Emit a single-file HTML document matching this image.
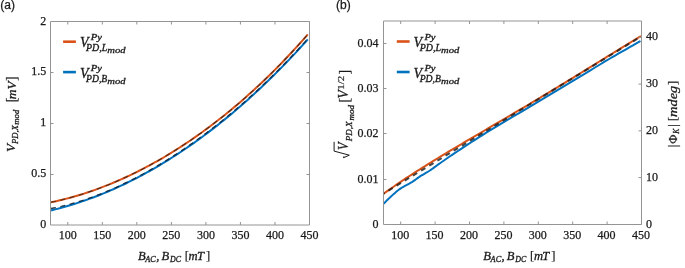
<!DOCTYPE html>
<html><head><meta charset="utf-8"><style>
html,body{margin:0;padding:0;background:#fff;}
body{width:685px;height:268px;overflow:hidden;}
svg{display:block;will-change:transform;}
</style></head><body>
<svg width="685" height="268" viewBox="0 0 685 268">
<rect width="685" height="268" fill="#fff"/>
<path d="M51.00,202.26 L53.59,201.72 L56.19,201.15 L58.78,200.56 L61.38,199.95 L63.97,199.31 L66.56,198.65 L69.16,197.96 L71.75,197.25 L74.35,196.52 L76.94,195.76 L79.53,194.98 L82.13,194.18 L84.72,193.35 L87.32,192.50 L89.91,191.63 L92.50,190.74 L95.10,189.82 L97.69,188.88 L100.28,187.91 L102.88,186.93 L105.47,185.92 L108.07,184.89 L110.66,183.83 L113.25,182.75 L115.85,181.66 L118.44,180.53 L121.04,179.39 L123.63,178.22 L126.22,177.03 L128.82,175.82 L131.41,174.59 L134.01,173.33 L136.60,172.05 L139.19,170.75 L141.79,169.43 L144.38,168.08 L146.98,166.71 L149.57,165.32 L152.16,163.90 L154.76,162.47 L157.35,161.01 L159.95,159.53 L162.54,158.02 L165.13,156.49 L167.73,154.94 L170.32,153.37 L172.92,151.77 L175.51,150.16 L178.10,148.51 L180.70,146.85 L183.29,145.16 L185.88,143.45 L188.48,141.71 L191.07,139.96 L193.67,138.17 L196.26,136.37 L198.85,134.54 L201.45,132.69 L204.04,130.81 L206.64,128.91 L209.23,126.98 L211.82,125.03 L214.42,123.06 L217.01,121.06 L219.61,119.04 L222.20,116.99 L224.79,114.92 L227.39,112.82 L229.98,110.70 L232.58,108.55 L235.17,106.38 L237.76,104.18 L240.36,101.95 L242.95,99.70 L245.55,97.42 L248.14,95.12 L250.73,92.79 L253.33,90.43 L255.92,88.05 L258.52,85.64 L261.11,83.20 L263.70,80.74 L266.30,78.24 L268.89,75.72 L271.48,73.17 L274.08,70.60 L276.67,67.99 L279.27,65.36 L281.86,62.69 L284.45,60.00 L287.05,57.28 L289.64,54.53 L292.24,51.75 L294.83,48.94 L297.42,46.09 L300.02,43.22 L302.61,40.32 L305.21,37.39 L307.80,34.42" stroke="#d95319" stroke-width="2.0" fill="none"/>
<path d="M51.00,210.43 L53.59,209.80 L56.19,209.15 L58.78,208.47 L61.38,207.78 L63.97,207.06 L66.56,206.32 L69.16,205.56 L71.75,204.78 L74.35,203.97 L76.94,203.14 L79.53,202.29 L82.13,201.42 L84.72,200.53 L87.32,199.61 L89.91,198.67 L92.50,197.71 L95.10,196.73 L97.69,195.73 L100.28,194.70 L102.88,193.65 L105.47,192.58 L108.07,191.49 L110.66,190.38 L113.25,189.24 L115.85,188.09 L118.44,186.91 L121.04,185.70 L123.63,184.48 L126.22,183.24 L128.82,181.97 L131.41,180.68 L134.01,179.37 L136.60,178.03 L139.19,176.68 L141.79,175.30 L144.38,173.90 L146.98,172.48 L149.57,171.03 L152.16,169.57 L154.76,168.08 L157.35,166.57 L159.95,165.03 L162.54,163.48 L165.13,161.90 L167.73,160.30 L170.32,158.68 L172.92,157.03 L175.51,155.37 L178.10,153.68 L180.70,151.97 L183.29,150.23 L185.88,148.47 L188.48,146.69 L191.07,144.89 L193.67,143.07 L196.26,141.22 L198.85,139.35 L201.45,137.45 L204.04,135.54 L206.64,133.60 L209.23,131.64 L211.82,129.65 L214.42,127.64 L217.01,125.61 L219.61,123.56 L222.20,121.48 L224.79,119.38 L227.39,117.25 L229.98,115.11 L232.58,112.94 L235.17,110.74 L237.76,108.52 L240.36,106.28 L242.95,104.01 L245.55,101.72 L248.14,99.41 L250.73,97.07 L253.33,94.71 L255.92,92.33 L258.52,89.92 L261.11,87.48 L263.70,85.03 L266.30,82.54 L268.89,80.04 L271.48,77.50 L274.08,74.95 L276.67,72.37 L279.27,69.76 L281.86,67.13 L284.45,64.48 L287.05,61.80 L289.64,59.09 L292.24,56.36 L294.83,53.60 L297.42,50.82 L300.02,48.01 L302.61,45.18 L305.21,42.32 L307.80,39.44" stroke="#0072bd" stroke-width="2.0" fill="none"/>
<path d="M51.00,202.26 L53.59,201.72 L56.19,201.15 L58.78,200.56 L61.38,199.95 L63.97,199.31 L66.56,198.65 L69.16,197.96 L71.75,197.25 L74.35,196.52 L76.94,195.76 L79.53,194.98 L82.13,194.18 L84.72,193.35 L87.32,192.50 L89.91,191.63 L92.50,190.74 L95.10,189.82 L97.69,188.88 L100.28,187.91 L102.88,186.93 L105.47,185.92 L108.07,184.89 L110.66,183.83 L113.25,182.75 L115.85,181.66 L118.44,180.53 L121.04,179.39 L123.63,178.22 L126.22,177.03 L128.82,175.82 L131.41,174.59 L134.01,173.33 L136.60,172.05 L139.19,170.75 L141.79,169.43 L144.38,168.08 L146.98,166.71 L149.57,165.32 L152.16,163.90 L154.76,162.47 L157.35,161.01 L159.95,159.53 L162.54,158.02 L165.13,156.49 L167.73,154.94 L170.32,153.37 L172.92,151.77 L175.51,150.16 L178.10,148.51 L180.70,146.85 L183.29,145.16 L185.88,143.45 L188.48,141.71 L191.07,139.96 L193.67,138.17 L196.26,136.37 L198.85,134.54 L201.45,132.69 L204.04,130.81 L206.64,128.91 L209.23,126.98 L211.82,125.03 L214.42,123.06 L217.01,121.06 L219.61,119.04 L222.20,116.99 L224.79,114.92 L227.39,112.82 L229.98,110.70 L232.58,108.55 L235.17,106.38 L237.76,104.18 L240.36,101.95 L242.95,99.70 L245.55,97.42 L248.14,95.12 L250.73,92.79 L253.33,90.43 L255.92,88.05 L258.52,85.64 L261.11,83.20 L263.70,80.74 L266.30,78.24 L268.89,75.72 L271.48,73.17 L274.08,70.60 L276.67,67.99 L279.27,65.36 L281.86,62.69 L284.45,60.00 L287.05,57.28 L289.64,54.53 L292.24,51.75 L294.83,48.94 L297.42,46.09 L300.02,43.22 L302.61,40.32 L305.21,37.39 L307.80,34.42" stroke="#1a1a1a" stroke-opacity="0.7" stroke-width="1.1" stroke-dasharray="5 4.55" fill="none"/>
<path d="M51.00,208.49 L53.59,207.99 L56.19,207.47 L58.78,206.91 L61.38,206.33 L63.97,205.71 L66.56,205.07 L69.16,204.39 L71.75,203.69 L74.35,202.95 L76.94,202.19 L79.53,201.40 L82.13,200.59 L84.72,199.74 L87.32,198.87 L89.91,197.97 L92.50,197.04 L95.10,196.09 L97.69,195.11 L100.28,194.11 L102.88,193.08 L105.47,192.03 L108.07,190.95 L110.66,189.84 L113.25,188.71 L115.85,187.56 L118.44,186.38 L121.04,185.18 L123.63,183.95 L126.22,182.70 L128.82,181.43 L131.41,180.13 L134.01,178.81 L136.60,177.46 L139.19,176.10 L141.79,174.71 L144.38,173.30 L146.98,171.86 L149.57,170.40 L152.16,168.92 L154.76,167.42 L157.35,165.90 L159.95,164.35 L162.54,162.78 L165.13,161.19 L167.73,159.58 L170.32,157.95 L172.92,156.29 L175.51,154.61 L178.10,152.92 L180.70,151.19 L183.29,149.45 L185.88,147.69 L188.48,145.90 L191.07,144.09 L193.67,142.26 L196.26,140.41 L198.85,138.54 L201.45,136.64 L204.04,134.73 L206.64,132.79 L209.23,130.83 L211.82,128.85 L214.42,126.84 L217.01,124.81 L219.61,122.76 L222.20,120.69 L224.79,118.60 L227.39,116.48 L229.98,114.34 L232.58,112.18 L235.17,109.99 L237.76,107.78 L240.36,105.55 L242.95,103.30 L245.55,101.02 L248.14,98.71 L250.73,96.39 L253.33,94.04 L255.92,91.66 L258.52,89.26 L261.11,86.83 L263.70,84.38 L266.30,81.91 L268.89,79.41 L271.48,76.88 L274.08,74.33 L276.67,71.75 L279.27,69.15 L281.86,66.51 L284.45,63.86 L287.05,61.17 L289.64,58.46 L292.24,55.71 L294.83,52.94 L297.42,50.15 L300.02,47.32 L302.61,44.46 L305.21,41.57 L307.80,38.66" stroke="#0d1f33" stroke-opacity="0.85" stroke-width="1.3" stroke-dasharray="5 4.55" fill="none"/>
<path d="M383.50,193.76 L386.10,191.90 L388.70,190.06 L391.30,188.25 L393.90,186.45 L396.51,184.66 L399.11,182.90 L401.71,181.15 L404.31,179.42 L406.91,177.70 L409.51,175.99 L412.11,174.30 L414.71,172.62 L417.31,170.96 L419.91,169.30 L422.52,167.66 L425.12,166.03 L427.72,164.41 L430.32,162.79 L432.92,161.19 L435.52,159.60 L438.12,158.01 L440.72,156.43 L443.32,154.85 L445.92,153.29 L448.53,151.73 L451.13,150.17 L453.73,148.62 L456.33,147.07 L458.93,145.53 L461.53,143.99 L464.13,142.46 L466.73,140.92 L469.33,139.39 L471.93,137.87 L474.54,136.34 L477.14,134.82 L479.74,133.29 L482.34,131.77 L484.94,130.25 L487.54,128.73 L490.14,127.21 L492.74,125.68 L495.34,124.16 L497.94,122.64 L500.55,121.12 L503.15,119.59 L505.75,118.06 L508.35,116.54 L510.95,115.01 L513.55,113.47 L516.15,111.94 L518.75,110.40 L521.35,108.87 L523.95,107.33 L526.56,105.78 L529.16,104.24 L531.76,102.69 L534.36,101.14 L536.96,99.58 L539.56,98.03 L542.16,96.47 L544.76,94.90 L547.36,93.34 L549.96,91.77 L552.57,90.20 L555.17,88.62 L557.77,87.05 L560.37,85.47 L562.97,83.89 L565.57,82.30 L568.17,80.71 L570.77,79.12 L573.37,77.53 L575.97,75.94 L578.58,74.34 L581.18,72.74 L583.78,71.14 L586.38,69.54 L588.98,67.94 L591.58,66.34 L594.18,64.73 L596.78,63.13 L599.38,61.52 L601.98,59.92 L604.59,58.31 L607.19,56.71 L609.79,55.11 L612.39,53.50 L614.99,51.90 L617.59,50.30 L620.19,48.71 L622.79,47.11 L625.39,45.52 L627.99,43.93 L630.60,42.34 L633.20,40.76 L635.80,39.18 L638.40,37.61 L641.00,36.04" stroke="#d95319" stroke-width="2.0" fill="none"/>
<path d="M383.50,203.80 L384.31,202.99 L385.12,202.18 L385.94,201.35 L386.75,200.53 L387.56,199.72 L388.38,198.93 L389.19,198.15 L390.00,197.40 L391.25,196.27 L392.50,195.13 L393.75,194.00 L395.00,192.89 L396.25,191.82 L397.50,190.79 L398.75,189.81 L400.00,188.90 L401.49,187.91 L402.98,187.01 L404.46,186.17 L405.95,185.37 L407.44,184.59 L408.92,183.80 L410.41,182.98 L411.90,182.10 L412.65,181.62 L413.40,181.12 L414.15,180.60 L414.90,180.07 L415.65,179.52 L416.40,178.98 L417.15,178.43 L417.90,177.90 L418.20,177.69 L418.50,177.47 L418.80,177.25 L419.10,177.02 L419.40,176.81 L419.70,176.59 L420.00,176.39 L420.30,176.20 L421.50,175.48 L422.70,174.77 L423.90,174.09 L425.10,173.40 L426.30,172.71 L427.50,172.00 L428.70,171.27 L429.90,170.50 L431.16,169.64 L432.42,168.75 L433.69,167.83 L434.95,166.89 L436.21,165.95 L437.48,165.01 L438.74,164.09 L440.00,163.20 L442.50,161.47 L445.00,159.74 L447.50,158.02 L450.00,156.30 L452.50,154.60 L455.00,152.92 L457.50,151.25 L460.00,149.60 L463.75,147.14 L467.50,144.70 L471.25,142.26 L475.00,139.84 L478.75,137.44 L482.50,135.07 L486.25,132.72 L490.00,130.40 L495.00,127.35 L500.00,124.34 L505.00,121.37 L510.00,118.41 L515.00,115.46 L520.00,112.52 L525.00,109.57 L530.00,106.60 L535.00,103.62 L540.00,100.64 L545.00,97.66 L550.00,94.67 L555.00,91.69 L560.00,88.70 L565.00,85.70 L570.00,82.70 L575.00,79.68 L580.00,76.65 L585.00,73.61 L590.00,70.56 L595.00,67.52 L600.00,64.49 L605.00,61.48 L610.00,58.50 L612.75,56.88 L615.50,55.29 L618.25,53.71 L621.00,52.15 L623.75,50.59 L626.50,49.03 L629.25,47.47 L632.00,45.90 L633.06,45.29 L634.12,44.68 L635.19,44.07 L636.25,43.45 L637.31,42.84 L638.38,42.23 L639.44,41.61 L640.50,41.00" stroke="#0072bd" stroke-width="2.0" fill="none"/>
<path d="M383.5,193.57 L641.3,36.35" stroke="#1a1a1a" stroke-opacity="0.8" stroke-width="2.0" stroke-dasharray="5 4.55" stroke-dashoffset="3.7" fill="none"/>
<path d="M50.5,21.5 H309.5 V225.0 H50.5 Z" stroke="#949494" stroke-width="1" fill="none"/>
<path d="M383.5,21.0 H641.5 V224.5 H383.5 Z" stroke="#949494" stroke-width="1" fill="none"/>
<path d="M67.77,225.0 v-3 M67.77,21.5 v3 M400.70,224.5 v-3 M400.70,21.0 v3 M102.30,225.0 v-3 M102.30,21.5 v3 M435.10,224.5 v-3 M435.10,21.0 v3 M136.83,225.0 v-3 M136.83,21.5 v3 M469.50,224.5 v-3 M469.50,21.0 v3 M171.37,225.0 v-3 M171.37,21.5 v3 M503.90,224.5 v-3 M503.90,21.0 v3 M205.90,225.0 v-3 M205.90,21.5 v3 M538.30,224.5 v-3 M538.30,21.0 v3 M240.43,225.0 v-3 M240.43,21.5 v3 M572.70,224.5 v-3 M572.70,21.0 v3 M274.97,225.0 v-3 M274.97,21.5 v3 M607.10,224.5 v-3 M607.10,21.0 v3 M309.50,225.0 v-3 M309.50,21.5 v3 M641.50,224.5 v-3 M641.50,21.0 v3 M50.5,174.50 h3 M309.5,174.50 h-3 M50.5,123.50 h3 M309.5,123.50 h-3 M50.5,72.50 h3 M309.5,72.50 h-3 M383.5,179.50 h3 M383.5,133.50 h3 M383.5,88.50 h3 M383.5,43.50 h3 M641.5,177.60 h-3 M641.5,130.85 h-3 M641.5,84.10 h-3 M641.5,37.35 h-3" stroke="#949494" stroke-width="1" fill="none"/>
<text x="67.77" y="239.1" text-anchor="middle" font-family="Liberation Serif" font-size="12" fill="#1a1a1a" stroke="#1a1a1a" stroke-width="0.25">100</text>
<text x="400.20" y="238.8" text-anchor="middle" font-family="Liberation Serif" font-size="12" fill="#1a1a1a" stroke="#1a1a1a" stroke-width="0.25">100</text>
<text x="102.30" y="239.1" text-anchor="middle" font-family="Liberation Serif" font-size="12" fill="#1a1a1a" stroke="#1a1a1a" stroke-width="0.25">150</text>
<text x="434.60" y="238.8" text-anchor="middle" font-family="Liberation Serif" font-size="12" fill="#1a1a1a" stroke="#1a1a1a" stroke-width="0.25">150</text>
<text x="136.83" y="239.1" text-anchor="middle" font-family="Liberation Serif" font-size="12" fill="#1a1a1a" stroke="#1a1a1a" stroke-width="0.25">200</text>
<text x="469.00" y="238.8" text-anchor="middle" font-family="Liberation Serif" font-size="12" fill="#1a1a1a" stroke="#1a1a1a" stroke-width="0.25">200</text>
<text x="171.37" y="239.1" text-anchor="middle" font-family="Liberation Serif" font-size="12" fill="#1a1a1a" stroke="#1a1a1a" stroke-width="0.25">250</text>
<text x="503.40" y="238.8" text-anchor="middle" font-family="Liberation Serif" font-size="12" fill="#1a1a1a" stroke="#1a1a1a" stroke-width="0.25">250</text>
<text x="205.90" y="239.1" text-anchor="middle" font-family="Liberation Serif" font-size="12" fill="#1a1a1a" stroke="#1a1a1a" stroke-width="0.25">300</text>
<text x="537.80" y="238.8" text-anchor="middle" font-family="Liberation Serif" font-size="12" fill="#1a1a1a" stroke="#1a1a1a" stroke-width="0.25">300</text>
<text x="240.43" y="239.1" text-anchor="middle" font-family="Liberation Serif" font-size="12" fill="#1a1a1a" stroke="#1a1a1a" stroke-width="0.25">350</text>
<text x="572.20" y="238.8" text-anchor="middle" font-family="Liberation Serif" font-size="12" fill="#1a1a1a" stroke="#1a1a1a" stroke-width="0.25">350</text>
<text x="274.97" y="239.1" text-anchor="middle" font-family="Liberation Serif" font-size="12" fill="#1a1a1a" stroke="#1a1a1a" stroke-width="0.25">400</text>
<text x="606.60" y="238.8" text-anchor="middle" font-family="Liberation Serif" font-size="12" fill="#1a1a1a" stroke="#1a1a1a" stroke-width="0.25">400</text>
<text x="309.50" y="239.1" text-anchor="middle" font-family="Liberation Serif" font-size="12" fill="#1a1a1a" stroke="#1a1a1a" stroke-width="0.25">450</text>
<text x="641.00" y="238.8" text-anchor="middle" font-family="Liberation Serif" font-size="12" fill="#1a1a1a" stroke="#1a1a1a" stroke-width="0.25">450</text>
<text x="46.2" y="228.10" text-anchor="end" font-family="Liberation Serif" font-size="12" fill="#1a1a1a" stroke="#1a1a1a" stroke-width="0.25">0</text>
<text x="46.2" y="177.22" text-anchor="end" font-family="Liberation Serif" font-size="12" fill="#1a1a1a" stroke="#1a1a1a" stroke-width="0.25">0.5</text>
<text x="46.2" y="126.35" text-anchor="end" font-family="Liberation Serif" font-size="12" fill="#1a1a1a" stroke="#1a1a1a" stroke-width="0.25">1</text>
<text x="46.2" y="75.47" text-anchor="end" font-family="Liberation Serif" font-size="12" fill="#1a1a1a" stroke="#1a1a1a" stroke-width="0.25">1.5</text>
<text x="46.2" y="24.60" text-anchor="end" font-family="Liberation Serif" font-size="12" fill="#1a1a1a" stroke="#1a1a1a" stroke-width="0.25">2</text>
<text x="378.4" y="228.00" text-anchor="end" font-family="Liberation Serif" font-size="12" fill="#1a1a1a" stroke="#1a1a1a" stroke-width="0.25">0</text>
<text x="378.4" y="182.65" text-anchor="end" font-family="Liberation Serif" font-size="12" fill="#1a1a1a" stroke="#1a1a1a" stroke-width="0.25">0.01</text>
<text x="378.4" y="137.30" text-anchor="end" font-family="Liberation Serif" font-size="12" fill="#1a1a1a" stroke="#1a1a1a" stroke-width="0.25">0.02</text>
<text x="378.4" y="91.95" text-anchor="end" font-family="Liberation Serif" font-size="12" fill="#1a1a1a" stroke="#1a1a1a" stroke-width="0.25">0.03</text>
<text x="378.4" y="46.60" text-anchor="end" font-family="Liberation Serif" font-size="12" fill="#1a1a1a" stroke="#1a1a1a" stroke-width="0.25">0.04</text>
<text x="646" y="227.60" font-family="Liberation Serif" font-size="12" fill="#1a1a1a" stroke="#1a1a1a" stroke-width="0.25">0</text>
<text x="646" y="180.70" font-family="Liberation Serif" font-size="12" fill="#1a1a1a" stroke="#1a1a1a" stroke-width="0.25">10</text>
<text x="646" y="133.80" font-family="Liberation Serif" font-size="12" fill="#1a1a1a" stroke="#1a1a1a" stroke-width="0.25">20</text>
<text x="646" y="86.90" font-family="Liberation Serif" font-size="12" fill="#1a1a1a" stroke="#1a1a1a" stroke-width="0.25">30</text>
<text x="646" y="40.00" font-family="Liberation Serif" font-size="12" fill="#1a1a1a" stroke="#1a1a1a" stroke-width="0.25">40</text>
<text x="0.3" y="8.7" font-family="Liberation Sans" font-size="12" fill="#1a1a1a" stroke="#1a1a1a" stroke-width="0.25">(a)</text>
<text x="336" y="8.7" font-family="Liberation Sans" font-size="12" fill="#1a1a1a" stroke="#1a1a1a" stroke-width="0.25">(b)</text>
<path d="M63.1,41.7 h12.8" stroke="#d95319" stroke-width="2.6"/>
<text font-family="Liberation Serif" font-style="italic" fill="#1a1a1a" stroke="#1a1a1a" stroke-width="0.3" font-size="14" x="79.90" y="47.00">V</text>
<text font-family="Liberation Serif" font-style="italic" fill="#1a1a1a" stroke="#1a1a1a" stroke-width="0.3" font-size="8.6" x="90.70" y="39.70" textLength="11.2" lengthAdjust="spacingAndGlyphs">Py</text>
<text font-family="Liberation Serif" font-style="italic" fill="#1a1a1a" stroke="#1a1a1a" stroke-width="0.3" font-size="9.3" x="86.00" y="50.70" textLength="21.3" lengthAdjust="spacingAndGlyphs">PD,L</text>
<text font-family="Liberation Serif" font-style="italic" fill="#1a1a1a" stroke="#1a1a1a" stroke-width="0.3" font-size="9" x="107.30" y="53.00" textLength="18.3" lengthAdjust="spacingAndGlyphs">mod</text>
<path d="M63.1,72.1 h12.8" stroke="#0072bd" stroke-width="2.6"/>
<text font-family="Liberation Serif" font-style="italic" fill="#1a1a1a" stroke="#1a1a1a" stroke-width="0.3" font-size="14" x="79.90" y="78.00">V</text>
<text font-family="Liberation Serif" font-style="italic" fill="#1a1a1a" stroke="#1a1a1a" stroke-width="0.3" font-size="8.6" x="90.70" y="70.70" textLength="11.2" lengthAdjust="spacingAndGlyphs">Py</text>
<text font-family="Liberation Serif" font-style="italic" fill="#1a1a1a" stroke="#1a1a1a" stroke-width="0.3" font-size="9.3" x="86.00" y="81.70" textLength="21.3" lengthAdjust="spacingAndGlyphs">PD,B</text>
<text font-family="Liberation Serif" font-style="italic" fill="#1a1a1a" stroke="#1a1a1a" stroke-width="0.3" font-size="9" x="107.30" y="84.00" textLength="18.3" lengthAdjust="spacingAndGlyphs">mod</text>
<path d="M396.8,41.5 h12.8" stroke="#d95319" stroke-width="2.6"/>
<text font-family="Liberation Serif" font-style="italic" fill="#1a1a1a" stroke="#1a1a1a" stroke-width="0.3" font-size="14" x="413.60" y="47.00">V</text>
<text font-family="Liberation Serif" font-style="italic" fill="#1a1a1a" stroke="#1a1a1a" stroke-width="0.3" font-size="8.6" x="424.40" y="39.70" textLength="11.2" lengthAdjust="spacingAndGlyphs">Py</text>
<text font-family="Liberation Serif" font-style="italic" fill="#1a1a1a" stroke="#1a1a1a" stroke-width="0.3" font-size="9.3" x="419.70" y="50.70" textLength="21.3" lengthAdjust="spacingAndGlyphs">PD,L</text>
<text font-family="Liberation Serif" font-style="italic" fill="#1a1a1a" stroke="#1a1a1a" stroke-width="0.3" font-size="9" x="441.00" y="53.00" textLength="18.3" lengthAdjust="spacingAndGlyphs">mod</text>
<path d="M396.8,72.0 h12.8" stroke="#0072bd" stroke-width="2.6"/>
<text font-family="Liberation Serif" font-style="italic" fill="#1a1a1a" stroke="#1a1a1a" stroke-width="0.3" font-size="14" x="413.60" y="78.00">V</text>
<text font-family="Liberation Serif" font-style="italic" fill="#1a1a1a" stroke="#1a1a1a" stroke-width="0.3" font-size="8.6" x="424.40" y="70.70" textLength="11.2" lengthAdjust="spacingAndGlyphs">Py</text>
<text font-family="Liberation Serif" font-style="italic" fill="#1a1a1a" stroke="#1a1a1a" stroke-width="0.3" font-size="9.3" x="419.70" y="81.70" textLength="21.3" lengthAdjust="spacingAndGlyphs">PD,B</text>
<text font-family="Liberation Serif" font-style="italic" fill="#1a1a1a" stroke="#1a1a1a" stroke-width="0.3" font-size="9" x="441.00" y="84.00" textLength="18.3" lengthAdjust="spacingAndGlyphs">mod</text>
<g transform="translate(0,0)">
<text font-family="Liberation Serif" font-style="italic" fill="#1a1a1a" stroke="#1a1a1a" stroke-width="0.3" font-size="12.6" x="138.0" y="259.6">B</text>
<text font-family="Liberation Serif" font-style="italic" fill="#1a1a1a" stroke="#1a1a1a" stroke-width="0.3" font-size="8.3" x="145.3" y="261.8" textLength="10.6" lengthAdjust="spacingAndGlyphs">AC</text>
<text font-family="Liberation Serif" font-style="italic" fill="#1a1a1a" stroke="#1a1a1a" stroke-width="0.3" font-size="12.6" x="156.3" y="259.6">,</text>
<text font-family="Liberation Serif" font-style="italic" fill="#1a1a1a" stroke="#1a1a1a" stroke-width="0.3" font-size="12.6" x="161.5" y="259.6">B</text>
<text font-family="Liberation Serif" font-style="italic" fill="#1a1a1a" stroke="#1a1a1a" stroke-width="0.3" font-size="8.3" x="170.0" y="261.8" textLength="11" lengthAdjust="spacingAndGlyphs">DC</text>
<text font-family="Liberation Serif" fill="#1a1a1a" stroke="#1a1a1a" stroke-width="0.2" font-size="12.6" x="184.8" y="259.6">[</text>
<text font-family="Liberation Serif" font-style="italic" fill="#1a1a1a" stroke="#1a1a1a" stroke-width="0.3" font-size="12.6" x="188.6" y="259.6">m</text>
<text font-family="Liberation Serif" font-style="italic" fill="#1a1a1a" stroke="#1a1a1a" stroke-width="0.3" font-size="12.6" x="197.0" y="259.6">T</text>
<text font-family="Liberation Serif" fill="#1a1a1a" stroke="#1a1a1a" stroke-width="0.2" font-size="12.6" x="206.0" y="259.6">]</text>
</g>
<g transform="translate(345.3,0)">
<text font-family="Liberation Serif" font-style="italic" fill="#1a1a1a" stroke="#1a1a1a" stroke-width="0.3" font-size="12.6" x="138.0" y="259.6">B</text>
<text font-family="Liberation Serif" font-style="italic" fill="#1a1a1a" stroke="#1a1a1a" stroke-width="0.3" font-size="8.3" x="145.3" y="261.8" textLength="10.6" lengthAdjust="spacingAndGlyphs">AC</text>
<text font-family="Liberation Serif" font-style="italic" fill="#1a1a1a" stroke="#1a1a1a" stroke-width="0.3" font-size="12.6" x="156.3" y="259.6">,</text>
<text font-family="Liberation Serif" font-style="italic" fill="#1a1a1a" stroke="#1a1a1a" stroke-width="0.3" font-size="12.6" x="161.5" y="259.6">B</text>
<text font-family="Liberation Serif" font-style="italic" fill="#1a1a1a" stroke="#1a1a1a" stroke-width="0.3" font-size="8.3" x="170.0" y="261.8" textLength="11" lengthAdjust="spacingAndGlyphs">DC</text>
<text font-family="Liberation Serif" fill="#1a1a1a" stroke="#1a1a1a" stroke-width="0.2" font-size="12.6" x="184.8" y="259.6">[</text>
<text font-family="Liberation Serif" font-style="italic" fill="#1a1a1a" stroke="#1a1a1a" stroke-width="0.3" font-size="12.6" x="188.6" y="259.6">m</text>
<text font-family="Liberation Serif" font-style="italic" fill="#1a1a1a" stroke="#1a1a1a" stroke-width="0.3" font-size="12.6" x="197.0" y="259.6">T</text>
<text font-family="Liberation Serif" fill="#1a1a1a" stroke="#1a1a1a" stroke-width="0.2" font-size="12.6" x="206.0" y="259.6">]</text>
</g>
<g transform="translate(15.6,151.9) rotate(-90)">
<text font-family="Liberation Serif" font-style="italic" fill="#1a1a1a" stroke="#1a1a1a" stroke-width="0.3" font-size="13.2" x="0" y="-0.6">V</text>
<text font-family="Liberation Serif" font-style="italic" fill="#1a1a1a" stroke="#1a1a1a" stroke-width="0.3" font-size="9" x="7.8" y="2.0" textLength="18.9" lengthAdjust="spacingAndGlyphs">PD,X</text>
<text font-family="Liberation Serif" font-style="italic" fill="#1a1a1a" stroke="#1a1a1a" stroke-width="0.3" font-size="8.2" x="27.2" y="3.7" textLength="15" lengthAdjust="spacingAndGlyphs">mod</text>
<text font-family="Liberation Serif" fill="#1a1a1a" stroke="#1a1a1a" stroke-width="0.2" font-size="14" x="49.6" y="0.3">[</text>
<text font-family="Liberation Serif" font-style="italic" fill="#1a1a1a" stroke="#1a1a1a" stroke-width="0.3" font-size="13.4" x="52.6" y="0">m</text>
<text font-family="Liberation Serif" font-style="italic" fill="#1a1a1a" stroke="#1a1a1a" stroke-width="0.3" font-size="13.2" x="62.4" y="0">V</text>
<text font-family="Liberation Serif" fill="#1a1a1a" stroke="#1a1a1a" stroke-width="0.2" font-size="14" x="71.0" y="0.3">]</text>
</g>
<g transform="translate(347.6,158) rotate(-90)">
<path d="M0.3,-4.1 L2.8,1.7 L6.9,-13.5 L16.2,-13.5" stroke="#1a1a1a" stroke-width="1.0" fill="none" stroke-linejoin="miter"/>
<path d="M0.3,-4.3 L1.3,-3.4" stroke="#1a1a1a" stroke-width="1.2" fill="none"/>
<text font-family="Liberation Serif" font-style="italic" fill="#1a1a1a" stroke="#1a1a1a" stroke-width="0.3" font-size="14.2" x="7.9" y="-0.1" textLength="7.6" lengthAdjust="spacingAndGlyphs">V</text>
<text font-family="Liberation Serif" font-style="italic" fill="#1a1a1a" stroke="#1a1a1a" stroke-width="0.3" font-size="9" x="16.8" y="4.0">PD,X</text>
<text font-family="Liberation Serif" font-style="italic" fill="#1a1a1a" stroke="#1a1a1a" stroke-width="0.3" font-size="8.4" x="37.4" y="5.9" textLength="15.6" lengthAdjust="spacingAndGlyphs">mod</text>
<text font-family="Liberation Serif" fill="#1a1a1a" stroke="#1a1a1a" stroke-width="0.2" font-size="14" x="55.4" y="0.9">[</text>
<text font-family="Liberation Serif" font-style="italic" fill="#1a1a1a" stroke="#1a1a1a" stroke-width="0.3" font-size="13.6" x="59.4" y="0">V</text>
<text font-family="Liberation Serif" fill="#1a1a1a" stroke="#1a1a1a" stroke-width="0.2" font-size="8.8" x="68.2" y="-3.2" textLength="14" lengthAdjust="spacingAndGlyphs">1/2</text>
<text font-family="Liberation Serif" fill="#1a1a1a" stroke="#1a1a1a" stroke-width="0.2" font-size="14" x="83.5" y="0.9">]</text>
</g>
<g transform="translate(676.9,147) rotate(-90)">
<text font-family="Liberation Serif" fill="#1a1a1a" stroke="#1a1a1a" stroke-width="0.2" font-size="12.6" x="-0.36" y="0">|</text>
<text font-family="Liberation Serif" fill="#1a1a1a" stroke="#1a1a1a" stroke-width="0.2" font-size="12.6" x="3.35" y="0">Φ</text>
<text font-family="Liberation Serif" font-style="italic" fill="#1a1a1a" stroke="#1a1a1a" stroke-width="0.3" font-size="7.6" x="13.3" y="1.9">K</text>
<text font-family="Liberation Serif" fill="#1a1a1a" stroke="#1a1a1a" stroke-width="0.2" font-size="12.6" x="20.34" y="0">|</text>
<text font-family="Liberation Serif" fill="#1a1a1a" stroke="#1a1a1a" stroke-width="0.2" font-size="13.4" x="25.8" y="0.3">[</text>
<text font-family="Liberation Serif" font-style="italic" fill="#1a1a1a" stroke="#1a1a1a" stroke-width="0.3" font-size="13" x="30.0" y="0" textLength="31.3" lengthAdjust="spacingAndGlyphs">mdeg</text>
<text font-family="Liberation Serif" fill="#1a1a1a" stroke="#1a1a1a" stroke-width="0.2" font-size="13.4" x="61.8" y="0.3">]</text>
</g>
</svg>
</body></html>
